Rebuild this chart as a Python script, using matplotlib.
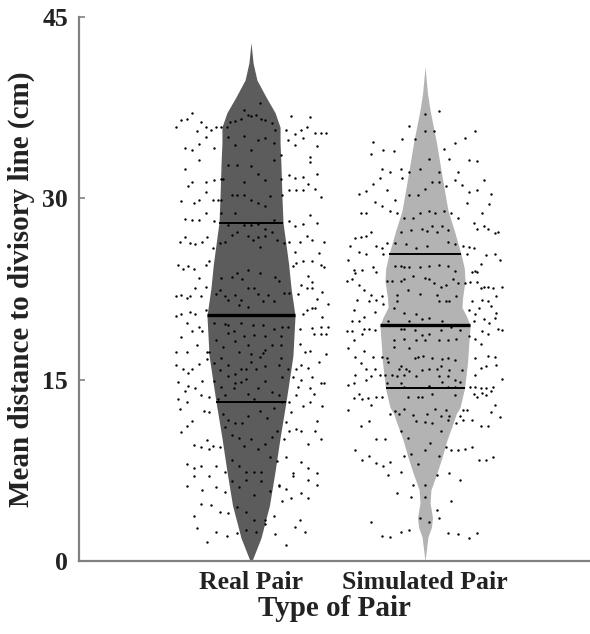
import matplotlib
matplotlib.use("Agg")
import matplotlib.pyplot as plt
import numpy as np

categories = ["Real Pair", "Simulated Pair"]

# violin outline: distance level (cm) and half width of the body
real_levels = [0, 1.9, 4.6, 7.4, 10.2, 12.9, 14.3, 17.0, 20.3, 22.6, 24.6, 28.0,
               30.1, 32.9, 34.6, 35.9, 37.1, 38.4, 39.8, 41.2, 42.9]
real_half = [0.005, 0.057, 0.106, 0.138, 0.167, 0.198, 0.213, 0.241, 0.253, 0.230,
             0.216, 0.184, 0.178, 0.172, 0.167, 0.167, 0.138, 0.086, 0.034, 0.012, 0.0]
sim_levels = [0, 2.0, 2.8, 3.6, 4.8, 5.9, 7.3, 8.6, 10.0, 11.4, 12.2, 12.7, 14.3,
              16.4, 19.5, 20.2, 21.0, 21.8, 23.2, 24.2, 25.4, 27.4, 29.0, 31.8,
              34.6, 37.3, 38.7, 40.9]
sim_half = [0.0, 0.017, 0.037, 0.043, 0.029, 0.034, 0.069, 0.098, 0.126, 0.161,
            0.180, 0.201, 0.227, 0.244, 0.259, 0.240, 0.212, 0.216, 0.230, 0.226,
            0.207, 0.167, 0.132, 0.098, 0.066, 0.029, 0.014, 0.0]

# lower quartile, median, upper quartile
real_quart = [13.2, 20.35, 28.0]
sim_quart = [14.3, 19.5, 25.4]

# individual pairs: (horizontal jitter, distance in cm)
real_pts = np.array([
    (-0.34, 37.1), (-0.40, 36.5), (-0.37, 36.6), (-0.43, 35.9), (-0.29, 36.3), (-0.26, 35.9),
    (-0.23, 35.7), (-0.20, 35.9), (-0.31, 35.6), (-0.26, 35.1), (-0.30, 34.5), (-0.38, 34.2),
    (-0.34, 34.0), (-0.21, 34.2), (-0.30, 33.2), (-0.38, 32.4), (-0.36, 31.0), (-0.34, 31.4),
    (-0.26, 31.4), (-0.21, 31.5), (-0.17, 31.6), (-0.26, 30.5), (-0.40, 29.8), (-0.33, 29.6),
    (-0.30, 29.9), (-0.22, 29.9), (-0.19, 29.9), (-0.26, 28.8), (-0.38, 28.3), (-0.34, 28.2),
    (-0.30, 28.2), (-0.21, 28.1), (-0.38, 26.8), (-0.41, 26.4), (-0.35, 26.3), (-0.32, 26.2),
    (-0.28, 26.4), (-0.25, 26.8), (-0.22, 25.9),
    (0.05, 37.9), (-0.04, 37.3), (-0.02, 36.9), (0.00, 36.8), (0.03, 36.9), (0.06, 36.6),
    (0.08, 36.5), (0.12, 36.2), (0.14, 35.7), (-0.09, 36.4), (-0.12, 36.3), (-0.06, 36.6),
    (-0.14, 35.9), (-0.17, 35.9), (-0.13, 35.1), (-0.04, 35.2), (0.04, 34.8), (0.08, 35.0),
    (0.13, 34.6), (-0.09, 34.4), (0.00, 34.0), (0.17, 33.6), (-0.13, 32.8), (-0.08, 32.8),
    (0.00, 32.7), (0.13, 33.2), (0.04, 32.0), (0.08, 31.5), (-0.04, 31.4), (-0.16, 31.6),
    (0.17, 31.6), (-0.11, 30.3), (-0.08, 30.3), (-0.04, 30.3), (0.11, 30.2), (-0.17, 29.9),
    (0.00, 29.9), (0.04, 29.6), (0.08, 29.4), (-0.09, 28.8), (-0.17, 28.8), (0.13, 28.2),
    (-0.13, 27.8), (-0.04, 27.8), (0.00, 27.8), (0.04, 27.9), (0.08, 27.5), (0.12, 27.2),
    (-0.11, 27.0), (-0.08, 27.2), (-0.02, 26.9), (0.01, 26.6), (0.04, 26.8), (0.08, 26.9),
    (0.15, 26.6), (0.19, 26.3), (-0.18, 26.3), (-0.15, 26.4), (0.05, 26.0),
    (0.23, 36.8), (0.34, 36.7), (0.20, 35.7), (0.29, 35.7), (0.25, 35.3), (0.32, 35.9),
    (0.30, 35.0), (0.37, 35.4), (0.40, 35.4), (0.43, 35.4), (0.21, 34.8), (0.25, 34.4),
    (0.38, 34.3), (0.34, 33.4), (0.34, 33.0), (0.38, 32.0), (0.22, 31.9), (0.25, 31.7),
    (0.30, 31.8), (0.33, 31.2), (0.37, 30.8), (0.22, 30.7), (0.26, 30.7), (0.30, 30.7),
    (0.40, 30.1), (0.18, 30.3), (0.22, 28.1), (0.25, 27.7), (0.30, 27.9), (0.38, 28.0),
    (0.34, 28.6), (0.22, 26.4), (0.28, 26.4), (0.32, 26.9), (0.35, 26.6), (0.42, 26.4),
    (0.39, 25.5), (0.25, 25.6),
    (-0.42, 24.5), (-0.39, 24.2), (-0.36, 24.4), (-0.33, 24.2), (-0.26, 24.5), (-0.24, 24.8),
    (-0.30, 23.4), (-0.32, 22.6), (-0.26, 22.7), (-0.43, 21.9), (-0.40, 22.0), (-0.37, 21.8),
    (-0.35, 21.9), (-0.29, 21.9), (-0.40, 20.4), (-0.43, 20.3), (-0.35, 20.6), (-0.32, 20.4),
    (-0.26, 20.8), (-0.37, 19.7), (-0.34, 19.0), (-0.30, 19.4), (-0.28, 19.0), (-0.40, 18.5),
    (-0.31, 17.9), (-0.43, 17.3), (-0.37, 17.3), (-0.25, 17.3), (-0.25, 16.7), (-0.43, 16.2),
    (-0.39, 15.9), (-0.34, 15.9), (-0.30, 16.3), (-0.36, 15.6), (-0.28, 14.9), (-0.42, 14.8),
    (-0.38, 14.1), (-0.36, 14.5), (-0.32, 14.3), (-0.24, 13.6), (-0.29, 13.7), (-0.42, 13.4),
    (-0.37, 13.2),
    (-0.17, 23.4), (-0.11, 23.5), (-0.08, 23.8), (-0.05, 23.3), (-0.02, 24.1), (0.05, 23.8),
    (0.14, 23.5), (0.16, 23.2), (-0.20, 22.1), (-0.18, 22.4), (-0.15, 21.9), (-0.13, 21.6),
    (-0.09, 22.0), (-0.07, 21.2), (-0.02, 22.6), (0.02, 22.6), (0.04, 22.1), (0.10, 22.0),
    (0.07, 21.5), (0.13, 21.5), (0.19, 22.2), (0.22, 22.2), (-0.02, 21.0), (-0.06, 21.6),
    (-0.21, 19.7), (-0.15, 19.6), (-0.13, 19.5), (-0.06, 19.7), (0.01, 19.5), (0.07, 19.5),
    (0.13, 19.2), (0.18, 19.4), (0.21, 19.4), (-0.13, 18.9), (-0.10, 19.0), (-0.04, 18.6),
    (0.02, 18.7), (0.08, 18.6), (0.17, 18.6), (-0.20, 18.3), (-0.09, 18.2), (-0.02, 17.9),
    (-0.16, 17.7), (0.08, 17.5), (0.07, 17.2), (0.12, 17.9), (0.17, 17.9), (-0.24, 17.3),
    (-0.07, 17.3), (0.00, 17.1), (0.05, 16.9), (0.17, 16.8), (-0.17, 16.8), (-0.21, 16.4),
    (-0.13, 16.2), (-0.06, 15.9), (-0.03, 15.9), (0.03, 15.9), (0.08, 16.1), (0.16, 16.2),
    (-0.18, 15.8), (-0.09, 15.5), (-0.13, 15.3), (-0.03, 15.1), (0.00, 16.5), (-0.21, 14.9),
    (-0.09, 14.7), (-0.06, 14.8), (0.08, 14.9), (0.18, 15.2), (0.21, 15.9), (-0.17, 14.4),
    (0.04, 14.3), (0.12, 14.0), (0.16, 13.7), (-0.10, 14.3), (-0.02, 13.8), (-0.19, 13.4),
    (-0.15, 13.7), (0.02, 13.4), (0.18, 13.2),
    (0.24, 24.4), (0.26, 24.7), (0.30, 24.8), (0.35, 24.8), (0.40, 24.5), (0.42, 24.3),
    (0.33, 23.6), (0.35, 23.1), (0.29, 22.8), (0.32, 22.6), (0.35, 22.6), (0.27, 22.1),
    (0.41, 22.3), (0.38, 21.7), (0.44, 21.3), (0.35, 20.9), (0.30, 20.4), (0.32, 20.8),
    (0.37, 20.9), (0.41, 20.2), (0.28, 19.2), (0.35, 19.3), (0.40, 19.4), (0.44, 19.4),
    (0.36, 18.8), (0.40, 18.8), (0.43, 18.8), (0.28, 18.0), (0.31, 17.3), (0.34, 17.4),
    (0.43, 17.1), (0.39, 16.5), (0.29, 16.2), (0.33, 16.0), (0.26, 15.9), (0.24, 15.2),
    (0.35, 15.2), (0.27, 14.4), (0.29, 15.0), (0.42, 14.7), (0.34, 14.3), (0.40, 14.7),
    (0.26, 13.7), (0.34, 13.2), (0.36, 13.8), (0.22, 13.2),
    (-0.41, 12.6), (-0.27, 12.4), (-0.24, 12.3), (-0.34, 11.6), (-0.37, 11.2), (-0.40, 10.7),
    (-0.33, 9.6), (-0.29, 9.4), (-0.25, 10.0), (-0.24, 9.3), (-0.22, 9.5), (-0.18, 9.4),
    (-0.37, 8.0), (-0.33, 7.7), (-0.29, 7.9), (-0.20, 7.9), (-0.33, 7.0), (-0.24, 7.0),
    (-0.37, 6.2), (-0.28, 5.9), (-0.20, 6.1), (-0.15, 5.7), (-0.29, 4.7), (-0.23, 4.6),
    (-0.33, 3.7), (-0.18, 4.1), (-0.13, 4.0), (-0.31, 2.7), (-0.20, 2.4), (-0.14, 2.1),
    (-0.25, 1.6), (-0.08, 2.3),
    (-0.16, 12.2), (-0.13, 11.7), (-0.09, 11.4), (-0.05, 11.4), (-0.02, 12.0), (0.05, 12.4),
    (0.09, 11.8), (0.13, 12.7), (-0.15, 11.1), (-0.11, 10.4), (-0.07, 10.2), (0.00, 10.1),
    (0.12, 10.3), (0.15, 10.8), (-0.04, 9.5), (0.04, 9.3), (0.08, 9.7), (-0.11, 8.4),
    (-0.07, 7.9), (0.11, 8.6), (0.15, 8.3), (-0.03, 7.4), (0.02, 7.4), (0.06, 7.4),
    (-0.11, 6.6), (-0.03, 6.7), (0.06, 6.6), (-0.15, 7.4), (-0.07, 6.1), (0.02, 5.5),
    (0.11, 5.8), (0.16, 6.3), (-0.08, 4.5), (-0.03, 4.1), (0.02, 3.4), (0.08, 3.4),
    (0.08, 3.1), (-0.03, 2.6), (0.03, 2.4),
    (0.23, 12.3), (0.30, 12.8), (0.41, 12.8), (0.20, 11.5), (0.26, 10.9), (0.29, 10.8),
    (0.22, 10.8), (0.37, 10.8), (0.38, 11.6), (0.19, 10.1), (0.40, 10.1), (0.33, 9.7),
    (0.20, 8.6), (0.29, 8.2), (0.33, 7.7), (0.24, 7.3), (0.24, 7.0), (0.38, 7.3),
    (0.33, 6.7), (0.38, 6.3), (0.16, 6.2), (0.20, 6.0), (0.29, 5.6), (0.23, 5.2),
    (0.33, 5.2), (0.18, 5.0), (0.13, 3.7), (0.28, 3.4), (0.25, 2.8), (0.31, 2.4),
    (0.14, 2.2), (0.20, 1.3),
])

sim_pts = np.array([
    (0.00, 37.0), (0.08, 37.2), (-0.09, 36.0), (0.00, 35.6), (0.05, 35.6), (-0.13, 34.9),
    (-0.06, 34.9), (-0.30, 34.7), (0.23, 35.0), (0.17, 34.6), (0.29, 35.6), (-0.24, 34.0),
    (-0.18, 33.9), (-0.31, 33.7), (0.11, 34.1), (0.02, 33.3), (0.14, 33.3), (0.25, 33.2),
    (0.30, 33.1), (-0.25, 32.4), (-0.20, 32.2), (-0.14, 32.4), (-0.09, 32.2), (-0.03, 32.4),
    (0.08, 32.2), (0.19, 32.2), (-0.26, 31.7), (-0.13, 31.7), (0.04, 31.4), (0.08, 31.4),
    (0.17, 31.5), (0.34, 31.5), (-0.30, 31.2), (-0.22, 30.7), (0.00, 30.8), (0.12, 31.0),
    (0.21, 31.1), (0.30, 30.7), (0.25, 30.5), (-0.38, 30.4), (-0.34, 30.6), (-0.09, 30.3),
    (-0.04, 30.3), (-0.17, 29.9), (-0.29, 29.7), (-0.25, 29.4), (-0.20, 29.0), (-0.37, 28.8),
    (-0.34, 28.8), (-0.16, 28.8), (-0.12, 28.4), (-0.07, 28.4), (-0.03, 28.8), (0.02, 29.0),
    (0.06, 28.8), (0.11, 29.0), (0.15, 28.8), (0.24, 29.6), (0.19, 28.4), (0.37, 29.5),
    (0.38, 30.4), (0.33, 28.8), (-0.14, 27.2), (-0.08, 27.4), (-0.02, 27.5), (0.01, 27.3),
    (0.04, 27.7), (0.07, 27.2), (0.10, 27.7), (0.13, 27.4), (0.28, 28.0), (0.30, 27.5),
    (0.34, 27.7), (0.36, 27.5), (0.40, 27.1), (0.42, 27.2), (-0.40, 26.7), (-0.37, 26.8),
    (-0.34, 26.9), (-0.31, 27.2),
    (-0.43, 26.1), (-0.38, 25.6), (-0.34, 25.4), (-0.28, 26.1), (-0.25, 25.9), (-0.24, 25.4),
    (-0.22, 26.3), (-0.44, 24.9), (-0.41, 24.1), (-0.40, 23.8), (-0.36, 24.1), (-0.30, 24.3),
    (-0.28, 23.9), (-0.45, 23.2), (-0.42, 23.3), (-0.38, 22.8), (-0.35, 22.4), (-0.31, 22.0),
    (-0.28, 21.6), (-0.25, 21.9), (-0.39, 21.6), (-0.32, 21.5), (-0.24, 21.3), (-0.41, 20.8),
    (-0.29, 20.6), (-0.35, 20.2), (-0.42, 19.9), (-0.38, 19.9), (-0.45, 19.0), (-0.42, 19.0),
    (-0.35, 19.2), (-0.32, 19.2), (-0.36, 18.8), (-0.29, 19.1), (-0.41, 18.3), (-0.44, 17.6),
    (-0.40, 16.9), (-0.35, 17.4), (-0.30, 16.9), (-0.25, 16.9), (-0.22, 16.8), (-0.37, 16.4),
    (-0.34, 15.9), (-0.29, 15.9), (-0.26, 15.4), (-0.23, 15.4), (-0.31, 15.3), (-0.44, 14.6),
    (-0.41, 14.7), (-0.34, 15.0), (-0.40, 15.4),
    (-0.17, 26.3), (-0.11, 26.2), (-0.05, 25.9), (0.01, 26.1), (0.13, 26.4), (0.17, 26.2),
    (-0.17, 24.4), (-0.14, 24.4), (-0.12, 24.3), (-0.09, 24.3), (-0.03, 24.3), (0.02, 24.4),
    (0.08, 24.5), (0.13, 24.4), (0.17, 24.0), (-0.22, 23.2), (-0.19, 23.2), (-0.14, 23.2),
    (-0.12, 23.3), (-0.07, 23.6), (0.00, 23.4), (0.02, 23.3), (0.05, 23.0), (0.09, 22.7),
    (0.12, 22.8), (0.16, 23.3), (0.19, 23.0), (-0.10, 22.4), (-0.03, 22.1), (-0.16, 22.0),
    (-0.16, 21.5), (0.07, 22.0), (0.08, 21.5), (0.12, 21.5), (0.14, 21.5), (0.18, 21.9),
    (-0.18, 20.9), (-0.12, 20.5), (-0.09, 19.9), (-0.05, 20.4), (-0.02, 20.0), (0.02, 20.1),
    (0.10, 19.9), (-0.21, 19.9), (-0.14, 19.2), (-0.12, 19.2), (-0.06, 19.1), (-0.02, 18.7),
    (0.02, 18.8), (0.09, 19.1), (0.15, 19.4), (0.20, 19.1), (-0.18, 18.3), (-0.12, 18.4),
    (-0.05, 18.3), (0.00, 18.3), (0.08, 18.3), (0.13, 18.3), (0.18, 18.4), (-0.18, 17.7),
    (-0.09, 17.6), (-0.04, 16.9), (-0.01, 17.0), (-0.06, 16.8), (0.04, 16.8), (0.10, 16.7),
    (0.13, 16.8), (0.17, 16.6), (-0.21, 16.5), (-0.14, 16.1), (-0.11, 15.9), (-0.15, 15.9),
    (-0.09, 15.7), (-0.02, 15.8), (0.02, 15.9), (0.07, 15.9), (0.09, 16.1), (0.14, 15.8),
    (0.21, 15.8), (-0.19, 15.4), (-0.16, 15.3), (-0.12, 15.4), (-0.05, 15.3), (0.08, 15.3),
    (0.13, 15.3), (0.10, 14.8), (0.17, 15.0), (0.20, 14.8), (0.02, 14.5), (0.13, 14.4),
    (0.17, 14.4), (-0.22, 14.7), (-0.14, 14.7), (-0.12, 14.4),
    (0.22, 26.1), (0.25, 26.0), (0.28, 25.9), (0.24, 25.4), (0.35, 25.3), (0.40, 25.4),
    (0.29, 24.0), (0.27, 23.9), (0.30, 23.9), (0.32, 24.6), (0.43, 24.9), (0.23, 23.0),
    (0.26, 23.1), (0.30, 23.1), (0.32, 22.6), (0.34, 22.7), (0.36, 22.7), (0.39, 22.6),
    (0.44, 22.7), (0.41, 21.9), (0.27, 21.5), (0.33, 21.6), (0.36, 21.5), (0.25, 20.8),
    (0.29, 20.4), (0.31, 20.9), (0.38, 21.1), (0.41, 20.5), (0.28, 19.9), (0.34, 20.0),
    (0.37, 19.7), (0.40, 20.1), (0.42, 19.2), (0.44, 19.1), (0.25, 18.6), (0.29, 18.4),
    (0.33, 19.0), (0.36, 18.8), (0.32, 18.0), (0.29, 16.8), (0.36, 17.0), (0.40, 16.9),
    (0.32, 16.0), (0.35, 16.1), (0.41, 16.2), (0.29, 15.4), (0.44, 15.1), (0.26, 14.4),
    (0.29, 14.4), (0.32, 14.3), (0.35, 14.3), (0.39, 14.4),
    (-0.41, 13.5), (-0.38, 13.8), (-0.36, 13.4), (-0.33, 13.5), (-0.31, 12.9), (-0.28, 13.6),
    (-0.25, 13.6), (-0.44, 12.5), (-0.37, 11.2), (-0.32, 11.6), (-0.28, 10.1), (-0.23, 10.1),
    (-0.40, 9.2), (-0.36, 8.4), (-0.32, 8.7), (-0.28, 8.1), (-0.24, 7.9), (-0.20, 8.2),
    (-0.21, 7.1), (-0.16, 5.6), (-0.31, 3.2), (-0.25, 2.1), (-0.20, 2.0), (-0.14, 2.4),
    (-0.09, 2.6), (-0.14, 7.4),
    (-0.10, 13.6), (-0.04, 13.6), (-0.02, 13.6), (0.04, 13.8), (0.17, 13.7), (-0.20, 12.2),
    (-0.17, 12.4), (-0.15, 12.2), (-0.12, 12.6), (-0.07, 12.1), (-0.05, 11.6), (0.00, 11.5),
    (0.01, 12.2), (0.04, 11.4), (0.06, 12.6), (0.09, 12.0), (0.12, 12.5), (0.14, 12.0),
    (0.13, 11.7), (0.18, 11.4), (-0.14, 10.8), (-0.10, 10.2), (0.03, 9.8), (0.09, 10.8),
    (0.00, 9.2), (-0.08, 8.9), (-0.12, 8.7), (0.08, 8.7), (-0.04, 8.0), (-0.07, 6.3),
    (0.00, 6.3), (-0.08, 5.3), (0.00, 5.3), (-0.03, 3.6), (0.02, 3.2), (0.07, 7.1),
    (0.12, 9.4),
    (0.22, 12.5), (0.24, 12.5), (0.20, 12.0), (0.22, 11.7), (0.27, 11.7), (0.32, 11.2),
    (0.36, 11.2), (0.40, 12.9), (0.38, 12.3), (0.43, 11.9), (0.28, 13.8), (0.30, 13.6),
    (0.33, 13.9), (0.35, 13.7), (0.38, 14.1), (0.15, 9.2), (0.19, 9.2), (0.23, 9.3),
    (0.27, 9.4), (0.31, 8.4), (0.35, 8.4), (0.39, 8.6), (0.14, 7.3), (0.20, 6.7),
    (0.15, 5.0), (0.07, 4.2), (0.08, 3.6), (0.13, 2.3), (0.19, 2.2), (0.25, 1.9),
    (0.30, 2.3),
])

plt.rcParams["font.family"] = "Liberation Serif"
plt.rcParams["font.weight"] = "bold"

fig = plt.figure(figsize=(5.9, 6.34), dpi=100)
ax = fig.add_axes([0.134, 0.115, 0.866, 0.858])

groups = [
    (real_levels, real_half, real_quart, real_pts, "#5c5c5c"),
    (sim_levels, sim_half, sim_quart, sim_pts, "#b3b3b3"),
]

for pos, (levels, half, quart, pts, col) in enumerate(groups, start=1):
    levels = np.asarray(levels)
    half = np.asarray(half)
    ax.fill_betweenx(levels, pos - half, pos + half, color=col, lw=0, zorder=1)
    for k, q in enumerate(quart):
        w = np.interp(q, levels, half)
        ax.plot([pos - w, pos + w], [q, q], color="black",
                lw=2.4 if k == 1 else 1.4, solid_capstyle="butt", zorder=2)
    ax.scatter(pos + pts[:, 0], pts[:, 1], s=3, color="black", lw=0, zorder=3)

ax.set_xlim(0.012, 2.948)
ax.set_ylim(0, 45)
ax.set_yticks([0, 15, 30, 45])
ax.set_xticks([1, 2])
ax.set_xticklabels(categories)

for side in ["top", "right"]:
    ax.spines[side].set_visible(False)
for side in ["left", "bottom"]:
    ax.spines[side].set_color("#808080")
    ax.spines[side].set_linewidth(1.6)

ax.tick_params(axis="y", direction="in", length=4, width=1.2, color="#808080",
               labelsize=18.5, pad=8, labelcolor="#222222")
ax.tick_params(axis="x", direction="in", length=0, labelsize=18.5, pad=7,
               labelcolor="#222222")

ax.set_ylabel("Mean distance to divisory line (cm)", fontsize=21,
              fontweight="bold", color="#222222", labelpad=5)
ax.set_xlabel("Type of Pair", fontsize=21, fontweight="bold", color="#222222",
              labelpad=1)

fig.savefig("out.png", dpi=100)
